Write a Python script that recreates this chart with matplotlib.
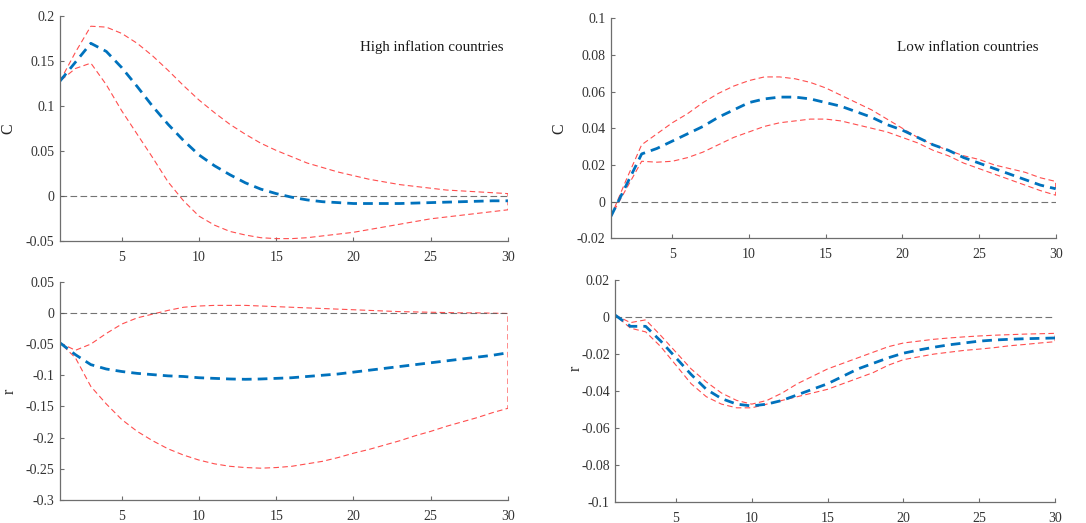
import numpy as np
import matplotlib
matplotlib.use("Agg")
import matplotlib.pyplot as plt

plt.rcParams["font.family"] = ["Liberation Serif", "DejaVu Serif"]

horizon = np.arange(1, 31)

# High inflation countries: response of C
high_c_mean = [0.128, 0.149, 0.170, 0.161, 0.143, 0.122, 0.100, 0.080, 0.062, 0.046,
               0.034, 0.024, 0.015, 0.008, 0.003, -0.001, -0.004, -0.006, -0.007, -0.008,
               -0.008, -0.008, -0.008, -0.0075, -0.007, -0.0065, -0.006, -0.0055, -0.005, -0.005]
high_c_upper = [0.128, 0.160, 0.189, 0.188, 0.181, 0.170, 0.156, 0.140, 0.123, 0.107,
                0.093, 0.080, 0.069, 0.059, 0.051, 0.044, 0.037, 0.032, 0.027, 0.023,
                0.019, 0.016, 0.013, 0.011, 0.009, 0.007, 0.006, 0.005, 0.004, 0.003]
high_c_lower = [0.128, 0.142, 0.148, 0.124, 0.095, 0.069, 0.043, 0.016, -0.005, -0.022,
                -0.032, -0.039, -0.043, -0.046, -0.047, -0.047, -0.046, -0.044, -0.042, -0.040,
                -0.037, -0.034, -0.031, -0.028, -0.025, -0.023, -0.021, -0.019, -0.017, -0.015]

# Low inflation countries: response of C
low_c_mean = [-0.008, 0.009, 0.026, 0.029, 0.033, 0.037, 0.041, 0.046, 0.050, 0.054,
              0.056, 0.057, 0.057, 0.056, 0.054, 0.052, 0.049, 0.046, 0.042, 0.039,
              0.035, 0.031, 0.028, 0.024, 0.021, 0.018, 0.015, 0.012, 0.009, 0.007]
low_c_upper = [-0.008, 0.012, 0.031, 0.037, 0.043, 0.048, 0.054, 0.059, 0.063, 0.066,
               0.068, 0.068, 0.067, 0.065, 0.062, 0.058, 0.054, 0.050, 0.045, 0.040,
               0.035, 0.031, 0.028, 0.025, 0.023, 0.020, 0.018, 0.016, 0.013, 0.011]
low_c_lower = [-0.008, 0.007, 0.022, 0.0215, 0.022, 0.024, 0.027, 0.031, 0.035, 0.038,
               0.041, 0.043, 0.044, 0.045, 0.045, 0.044, 0.042, 0.040, 0.038, 0.035,
               0.032, 0.028, 0.025, 0.021, 0.018, 0.015, 0.012, 0.009, 0.006, 0.0035]

# High inflation countries: response of r
high_r_mean = [-0.048, -0.067, -0.083, -0.090, -0.094, -0.097, -0.099, -0.101, -0.102, -0.104,
               -0.105, -0.106, -0.1065, -0.106, -0.105, -0.104, -0.102, -0.100, -0.098, -0.095,
               -0.092, -0.089, -0.086, -0.083, -0.080, -0.077, -0.074, -0.071, -0.068, -0.064]
high_r_upper = [-0.048, -0.060, -0.050, -0.033, -0.018, -0.008, -0.002, 0.004, 0.009, 0.011,
                0.012, 0.012, 0.012, 0.011, 0.010, 0.009, 0.008, 0.007, 0.006, 0.005,
                0.004, 0.003, 0.002, 0.0015, 0.001, 0.0005, 0.0, 0.0, -0.0005, -0.001]
high_r_lower = [-0.048, -0.072, -0.118, -0.146, -0.171, -0.190, -0.205, -0.218, -0.228, -0.236,
                -0.242, -0.246, -0.248, -0.249, -0.248, -0.246, -0.242, -0.238, -0.232, -0.225,
                -0.219, -0.212, -0.205, -0.197, -0.190, -0.182, -0.175, -0.168, -0.160, -0.153]

# Low inflation countries: response of r
low_r_mean = [0.001, -0.005, -0.005, -0.013, -0.022, -0.031, -0.039, -0.044, -0.047, -0.048,
              -0.047, -0.045, -0.042, -0.039, -0.036, -0.032, -0.028, -0.025, -0.022, -0.0195,
              -0.0178, -0.0163, -0.015, -0.014, -0.013, -0.0124, -0.012, -0.0117, -0.0115, -0.0113]
low_r_upper = [0.001, -0.003, -0.0015, -0.010, -0.019, -0.028, -0.035, -0.041, -0.045, -0.047,
               -0.045, -0.041, -0.036, -0.032, -0.028, -0.025, -0.022, -0.019, -0.016, -0.014,
               -0.013, -0.012, -0.0113, -0.0107, -0.0102, -0.0098, -0.0095, -0.0092, -0.009, -0.0088]
low_r_lower = [0.001, -0.006, -0.008, -0.016, -0.026, -0.036, -0.043, -0.047, -0.049, -0.049,
               -0.047, -0.045, -0.043, -0.041, -0.039, -0.036, -0.033, -0.030, -0.026, -0.023,
               -0.0215, -0.020, -0.019, -0.018, -0.0173, -0.0165, -0.0155, -0.0148, -0.014, -0.0133]

BLUE = "#0072BD"
RED = "#FF3B3B"
AXIS = "#6e6e6e"


def draw_irf(ax, mean, upper, lower, ylim, yticks, ylabel, label_pos,
             title=None, title_pos=None):
    # confidence band drawn as a closed dashed outline
    xs = np.concatenate([horizon, horizon[::-1]])
    ys = np.concatenate([upper, lower[::-1]])
    ax.plot(xs, ys, color=RED, linestyle=(0, (5, 3)), linewidth=0.8, alpha=0.9)
    ax.axhline(0, color="#5a5a5a", linestyle=(0, (6, 3)), linewidth=0.8, alpha=0.85)
    ax.plot(horizon, mean, color=BLUE, linestyle=(0, (3.5, 2.2)), linewidth=2.0)

    ax.set_xlim(1, 30)
    ax.set_ylim(*ylim)
    ax.set_xticks([5, 10, 15, 20, 25, 30])
    ax.set_yticks(yticks)
    ax.set_yticklabels([("%g" % t) if abs(t) > 1e-12 else "0" for t in yticks])
    ax.set_ylabel(ylabel, fontsize=11.5, color="#262626")
    ax.yaxis.set_label_coords(*label_pos)

    for side in ("top", "right"):
        ax.spines[side].set_visible(False)
    for side in ("left", "bottom"):
        ax.spines[side].set_color(AXIS)
        ax.spines[side].set_linewidth(0.9)
    ax.tick_params(direction="in", length=3, width=0.8, color=AXIS,
                   labelsize=10, labelcolor="#333333")
    ax.tick_params(axis="y", pad=4)
    ax.tick_params(axis="x", pad=7)

    if title:
        ax.text(title_pos[0], title_pos[1], title, ha="right", va="center",
                fontsize=10.8, color="#1a1a1a")


fig = plt.figure(figsize=(10.86, 5.23), dpi=100)
ax_tl = fig.add_axes([0.0552, 0.5386, 0.4125, 0.4302])
ax_tr = fig.add_axes([0.5626, 0.5444, 0.4095, 0.4207])
ax_bl = fig.add_axes([0.0552, 0.0440, 0.4125, 0.4174])
ax_br = fig.add_axes([0.5666, 0.0396, 0.4049, 0.4250])

draw_irf(ax_tl, high_c_mean, high_c_upper, high_c_lower, (-0.05, 0.2),
         [-0.05, 0, 0.05, 0.1, 0.15, 0.2], "C", (-0.098, 0.5),
         "High inflation countries", (29.7, 0.166))
draw_irf(ax_tr, low_c_mean, low_c_upper, low_c_lower, (-0.02, 0.1),
         [-0.02, 0, 0.02, 0.04, 0.06, 0.08, 0.1], "C", (-0.097, 0.5),
         "Low inflation countries", (28.9, 0.084))
draw_irf(ax_bl, high_r_mean, high_r_upper, high_r_lower, (-0.3, 0.05),
         [-0.3, -0.25, -0.2, -0.15, -0.1, -0.05, 0, 0.05], "r", (-0.094, 0.5))
draw_irf(ax_br, low_r_mean, low_r_upper, low_r_lower, (-0.1, 0.02),
         [-0.1, -0.08, -0.06, -0.04, -0.02, 0, 0.02], "r", (-0.072, 0.605))

fig.savefig("out.png", dpi=100)
